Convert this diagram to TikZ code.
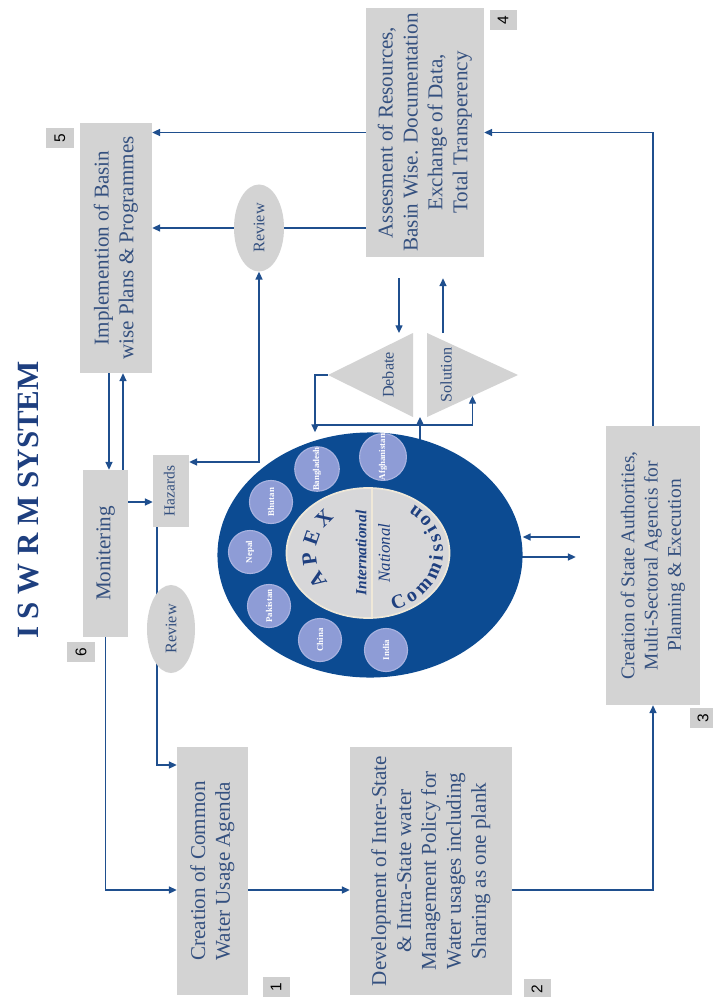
\documentclass[tikz,border=0pt]{standalone}
\usepackage{fontspec}
\setmainfont{Liberation Serif}
\setsansfont{Liberation Sans}
\usepackage{graphicx}
\usetikzlibrary{arrows.meta,shapes.geometric,backgrounds,decorations.text,calc}

\definecolor{boxgray}{HTML}{D3D3D3}
\definecolor{taggray}{HTML}{CFCFCF}
\definecolor{boxtext}{HTML}{34507F}
\definecolor{arrowblue}{HTML}{1F4F8E}
\definecolor{ringblue}{HTML}{0C4B92}
\definecolor{circblue}{HTML}{8E9CD6}
\definecolor{circedge}{HTML}{A9B3E0}
\definecolor{coregray}{HTML}{D7D7D9}
\definecolor{cream}{HTML}{EFE8D8}
\definecolor{titleblue}{HTML}{1E3F7F}

\newcommand{\vtext}[1]{\rotatebox{90}{\begin{tabular}{@{}c@{}}#1\end{tabular}}}

\begin{document}
\begin{tikzpicture}[x=0.025cm, y=-0.025cm, >={Triangle[length=5.5pt,width=5pt]},
    box/.style={fill=boxgray, inner sep=0pt, text=boxtext, font=\fontsize{15}{17.7}\selectfont},
    oval/.style={ellipse, fill=boxgray, inner sep=0pt, text=boxtext, font=\fontsize{11.5}{13}\selectfont},
    tag/.style={rotate=90, fill=taggray, inner sep=0pt, minimum width=0.5cm, minimum height=0.675cm, font=\sffamily\fontsize{11}{12}\selectfont},
    country/.style={circle, rotate=90, fill=circblue, draw=circedge, line width=0.8pt, minimum size=1.075cm, inner sep=0pt, text=white, font=\bfseries\fontsize{6.3}{7}\selectfont},
    line/.style={draw=arrowblue, line width=1pt},
    arr/.style={line, ->},
    arrs/.style={line, <->}]
\useasboundingbox (0,0) rectangle (712,997);

% title
\node[rotate=90, text=titleblue, font=\bfseries\fontsize{22}{26}\selectfont] (title) at (28,500) {I S W R M SYSTEM};

% steps
\node[box, minimum width=1.775cm, minimum height=6.2cm] (agenda) at (212.5,871) {\vtext{Creation of Common\\Water Usage Agenda}};
\node[box, minimum width=4.05cm, minimum height=6.2cm] (policy) at (431,871) {\vtext{Development of Inter-State\\\& Intra-State water\\Management Policy for\\Water usages including\\Sharing as one plank}};
\node[box, minimum width=2.35cm, minimum height=6.975cm, font=\fontsize{13.8}{16.5}\selectfont] (authority) at (653,565.5) {\vtext{Creation of State Authorities,\\Multi-Sectoral Agencis for\\Planning \& Execution}};
\node[box, minimum width=2.95cm, minimum height=6.225cm] (assess) at (425,132.5) {\vtext{Assesment of Resources,\\Basin Wise. Documentation\\Exchange of Data,\\Total Transperency}};
\node[box, minimum width=1.8cm, minimum height=6.25cm] (implement) at (116,248) {\vtext{Implemention of Basin\\wise Plans \& Programmes}};
\node[box, minimum width=1.125cm, minimum height=4.175cm] (monitor) at (105.5,553.5) {\vtext{Monitering}};
\node[box, minimum width=0.9cm, minimum height=1.8cm, font=\fontsize{11}{13}\selectfont] (hazards) at (171,491) {\vtext{Hazards}};
\node[oval, minimum width=1.25cm, minimum height=2.175cm] (reviewtop) at (259,228) {\rotatebox{90}{Review}};
\node[oval, minimum width=1.2cm, minimum height=2.2cm] (reviewlow) at (171,629) {\rotatebox{90}{Review}};

% step numbers
\foreach \n/\x/\y in {1/276/987, 2/537/989, 3/703/718, 4/503/20, 5/60/138, 6/81/652}
  \node[tag] (tag\n) at (\x,\y) {\n};

% apex commission
\node[ellipse, fill=ringblue, minimum width=7.625cm, minimum height=6.125cm, inner sep=0pt] (ring) at (370,555) {};
\node[ellipse, fill=coregray, draw=cream, line width=1.2pt, minimum width=4.075cm, minimum height=3.25cm, inner sep=0pt] (core) at (368,553) {};
\draw[cream, line width=1pt] (core.north -| 372,0) -- (core.south -| 372,0);
\node[rotate=90, text=titleblue, font=\bfseries\itshape\fontsize{11}{12}\selectfont] (intl) at (361,553) {International};
\node[rotate=90, text=titleblue, font=\itshape\fontsize{12}{13}\selectfont] (natl) at (384,553) {National};
\path[decorate, decoration={text along path, text={|\bfseries\fontsize{15}{15}\selectfont|APEX}, text align={fit to path}, text color=titleblue}]
  (core.center) ++(-220:52 and 45) arc[start angle=-220, end angle=-130, x radius=52, y radius=45];
\path[decorate, decoration={text along path, text={|\bfseries\fontsize{14}{14}\selectfont|Commission}, text align={fit to path}, text color=titleblue}]
  (core.center) ++(-290:75 and 61) arc[start angle=-290, end angle=-412, x radius=75, y radius=61];

\foreach \c/\x/\y in {Bangladesh/317/469, Afghanistan/383/457, Bhutan/271/502, Nepal/250/552, Pakistan/269/606, China/320/640, India/386/650}
  \node[country] (\c) at (\x,\y) {\c};

% debate and solution
\coordinate (da) at (328,375); \coordinate (dn) at (413,333); \coordinate (ds) at (413,417);
\coordinate (sn) at (427,333); \coordinate (ss) at (427,417); \coordinate (sa) at (518,375);
\fill[boxgray] (da) -- (dn) -- (ds) -- cycle;
\fill[boxgray] (sn) -- (sa) -- (ss) -- cycle;
\node[rotate=90, text=boxtext, font=\fontsize{11.5}{13}\selectfont] (debate) at (388,375) {Debate};
\node[rotate=90, text=boxtext, font=\fontsize{11.5}{13}\selectfont] (solution) at (446,375) {Solution};

% connectors
\coordinate (low) at (0,890);
\coordinate (high) at (0,765);
\begin{pgfonlayer}{background}
\draw[arr] (assess.west) -- (assess.west -| implement.east);
\draw[line] (assess.west |- reviewtop) -- (reviewtop);
\draw[arr] (reviewtop.west) -- (reviewtop.west -| implement.east);
\draw[arr] (authority.north) |- (assess.east);
\draw[arr] (agenda.east |- low) -- (policy.west |- low);
\draw[arr] (policy.east |- low) -| (authority.south);
\draw[arr] (monitor.south) |- (agenda.west |- low);
\draw[arr] (hazards.south -| 157,0) |- (agenda.west |- high);
\draw[arr] (implement.south -| 109,0) -- (monitor.north -| 109,0);
\draw[arr] (monitor.north -| 123,0) -- (implement.south -| 123,0);
\draw[arr] (monitor.east |- 0,502) -- (hazards.west |- 0,502);
\draw[arrs] (hazards.east |- 0,462) -| (reviewtop.south);
\draw[arr, shorten <=0.65cm] (authority.west |- 0,537) -- (ring.east |- 0,537);
\draw[arr, shorten >=0.75cm] (ring.center |- 0,557) -- (authority.west |- 0,557);
\draw[arr, shorten <=0.525cm] (assess.south -| 399,0) -- (dn -| 399,0);
\draw[arr, shorten >=0.525cm] (sn -| 443,0) -- (assess.south -| 443,0);
\draw[arr] (da) -| (ring.north -| 315,0);
\draw[arr] (315,425) -| ($(ss)!0.5!(sa)$);
\draw[arr] (ring.center -| 420,0) -- (ds -| 420,0);
\end{pgfonlayer}
\end{tikzpicture}
\end{document}
